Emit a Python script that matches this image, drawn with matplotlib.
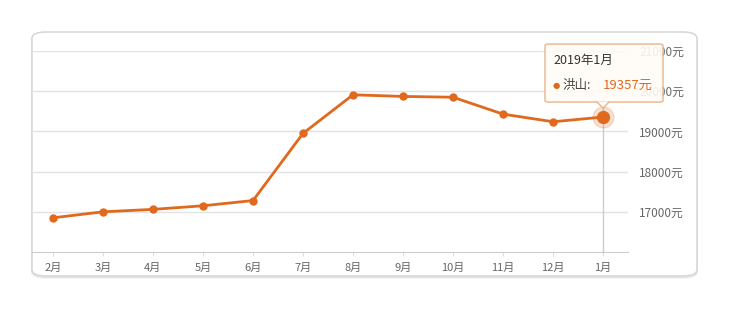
import matplotlib.pyplot as plt
from matplotlib.patches import FancyBboxPatch, Polygon

plt.rcParams['font.family'] = ['Noto Sans CJK SC', 'DejaVu Sans']

months = ['2月', '3月', '4月', '5月', '6月', '7月', '8月', '9月', '10月', '11月', '12月', '1月']
prices = [16850, 17000, 17060, 17150, 17280, 18950, 19910, 19870, 19850, 19430, 19240, 19357]
y_ticks = [17000, 18000, 19000, 20000, 21000]
tip_title = '2019年1月'
tip_name = '洪山'

orange = '#e0691d'
W, H = 730, 310

fig = plt.figure(figsize=(W / 100, H / 100), dpi=100)
fig.patch.set_facecolor('white')

# rounded frame with a soft shadow
for off, a in [(2, 0.04), (1, 0.07)]:
    fig.patches.append(FancyBboxPatch((32 / W, (H - 276 - off) / H), 665 / W, 244 / H,
                                      boxstyle='round,pad=0,rounding_size=0.02',
                                      transform=fig.transFigure, facecolor='none',
                                      edgecolor=(0, 0, 0, a), linewidth=1.5, zorder=-3))
fig.patches.append(FancyBboxPatch((32 / W, (H - 276) / H), 665 / W, 244 / H,
                                  boxstyle='round,pad=0,rounding_size=0.02',
                                  transform=fig.transFigure, facecolor='white',
                                  edgecolor='#d6d6d6', linewidth=1.1, zorder=-2))

ax = fig.add_axes([32 / W, (H - 252) / H, 596 / W, 201 / H])
ax.set_zorder(1)
ax.set_facecolor('none')
x = list(range(len(months)))

ax.set_xlim(-0.42, len(months) - 0.5)
ax.set_ylim(16000, 21000)
for v in y_ticks:
    ax.axhline(v, color='#e3e3e3', linewidth=1, zorder=1)
for s in ['top', 'left', 'right']:
    ax.spines[s].set_visible(False)
ax.spines['bottom'].set_color('#cccccc')

ax.set_xticks(x)
ax.set_xticklabels(months, fontsize=8, color='#666666')
ax.tick_params(axis='x', length=3, color='#dddddd', pad=5)
ax.yaxis.tick_right()
ax.set_yticks(y_ticks)
ax.set_yticklabels([f'{v}元' for v in y_ticks], fontsize=8.5, color='#666666')
ax.tick_params(axis='y', length=0, pad=8)

ax.plot(x, prices, color=orange, linewidth=2, marker='o', markersize=5, zorder=3)

# highlighted last point and the axis pointer
last = len(months) - 1
ax.plot([x[last]], [prices[last]], 'o', color=orange, markersize=15, alpha=0.2, zorder=4)
ax.plot([x[last]], [prices[last]], 'o', color=orange, markersize=8.5, zorder=5)

fig.canvas.draw()
px, py = ax.transData.transform((x[last], prices[last]))
top_px = py + 14
ax.axvline(x[last], ymin=0, ymax=ax.transAxes.inverted().transform((0, top_px))[1],
           color='#cccccc', linewidth=1, zorder=2)

# tooltip, kept inside the axes so it covers the tick labels
bx0, bx1 = px - 58, px + 60
by0, by1 = py + 15, py + 73
tf = fig.transFigure
ax.add_patch(FancyBboxPatch((bx0 / W, by0 / H), (bx1 - bx0) / W, (by1 - by0) / H,
                            boxstyle='round,pad=0,rounding_size=0.005', transform=tf,
                            facecolor=(1, 0.99, 0.97, 0.9), edgecolor='#e9b48c',
                            linewidth=1, zorder=10, clip_on=False))
ax.add_patch(Polygon([((px - 6) / W, (by0 + 0.5) / H), ((px + 6) / W, (by0 + 0.5) / H),
                      (px / W, (by0 - 6) / H)], closed=True, transform=tf,
                     facecolor=(1, 0.99, 0.97, 1), edgecolor='none', zorder=11, clip_on=False))
ax.plot([(px - 6) / W, px / W, (px + 6) / W], [by0 / H, (by0 - 6) / H, by0 / H],
        transform=tf, color='#e9b48c', linewidth=1, zorder=12, clip_on=False)
ax.text((bx0 + 8) / W, (by1 - 16) / H, tip_title, fontsize=9, color='#333333',
        va='center', zorder=13, transform=tf)
ax.text((bx0 + 8) / W, (by1 - 41) / H, '●', fontsize=6, color=orange, va='center', zorder=13,
        family=['DejaVu Sans'], transform=tf)
ax.text((bx0 + 17) / W, (by1 - 41) / H, f'{tip_name}:', fontsize=9, color='#444444',
        va='center', zorder=13, transform=tf)
ax.text((bx0 + 58) / W, (by1 - 41) / H, f'{prices[last]}元', fontsize=9.5, color=orange,
        va='center', zorder=13, transform=tf)

fig.savefig('out.png', dpi=100)
